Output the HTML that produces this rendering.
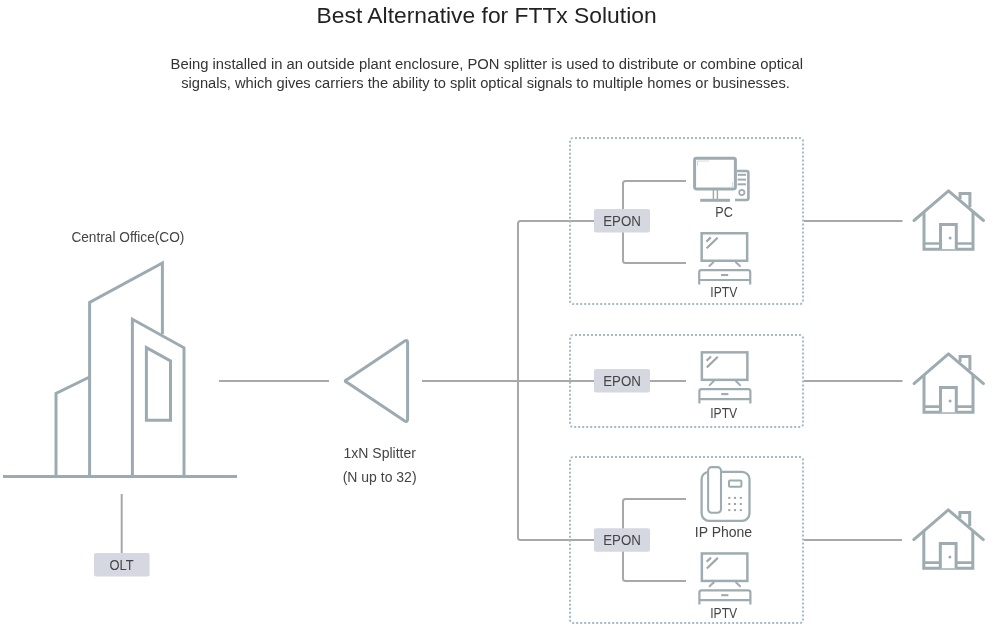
<!DOCTYPE html>
<html>
<head>
<meta charset="utf-8">
<style>
html,body{margin:0;padding:0;background:#fff;}
body{width:1008px;height:627px;overflow:hidden;position:relative;}
svg{position:absolute;left:0;top:0;display:block;will-change:transform;}
text{font-family:"Liberation Sans",sans-serif;}
</style>
</head>
<body>
<svg width="1008" height="627" viewBox="0 0 1008 627">

<!-- Title -->
<text x="486.6" y="22.6" text-anchor="middle" font-size="22.5" fill="#222" textLength="340" lengthAdjust="spacingAndGlyphs">Best Alternative for FTTx Solution</text>
<text x="486.8" y="68.8" text-anchor="middle" font-size="14" fill="#333" textLength="632.5" lengthAdjust="spacingAndGlyphs">Being installed in an outside plant enclosure, PON splitter is used to distribute or combine optical</text>
<text x="485.5" y="88.3" text-anchor="middle" font-size="14" fill="#333" textLength="608.7" lengthAdjust="spacingAndGlyphs">signals, which gives carriers the ability to split optical signals to multiple homes or businesses.</text>

<!-- Building -->
<g fill="none" stroke="#9cabb1" stroke-width="3" stroke-linejoin="miter">
  <line x1="3" y1="476.5" x2="237" y2="476.5"/>
  <polyline points="56,476 56,393.5 89.6,377"/>
  <polyline points="89.6,476 89.6,302.5 162.4,263 162.4,334"/>
  <polyline points="132.4,476 132.4,319.2 184,347.8 184,476"/>
  <polygon points="146.4,347.6 170.5,361 170.5,420.3 146.4,420.3"/>
</g>
<text x="127.9" y="241.9" text-anchor="middle" font-size="14" fill="#444" textLength="113" lengthAdjust="spacingAndGlyphs">Central Office(CO)</text>

<!-- OLT -->
<line x1="121.7" y1="494" x2="121.7" y2="554" stroke="#a8a8a8" stroke-width="2"/>
<rect x="94" y="553" width="55.6" height="23.5" rx="2" fill="#d5d8e1"/>
<text x="121.5" y="569.6" text-anchor="middle" font-size="14" fill="#444" textLength="24.2" lengthAdjust="spacingAndGlyphs">OLT</text>

<!-- Splitter -->
<line x1="219" y1="381" x2="329" y2="381" stroke="#a8a8a8" stroke-width="2"/>
<path d="M347.2,382.6 Q343.2,381 347.2,379.4 L404.4,341.2 Q407.6,339.1 407.6,342.9 L407.6,419.1 Q407.6,422.9 404.4,420.8 Z" fill="none" stroke="#9cabb1" stroke-width="3" stroke-linejoin="round"/>
<text x="379.7" y="458" text-anchor="middle" font-size="14" fill="#444">1xN Splitter</text>
<text x="379.6" y="481.5" text-anchor="middle" font-size="14" fill="#444">(N up to 32)</text>
<line x1="422" y1="381" x2="594" y2="381" stroke="#a8a8a8" stroke-width="2"/>

<!-- Trunk -->
<path d="M594,221 H520.5 Q518,221 518,223.5 V537.5 Q518,540 520.5,540 H594" fill="none" stroke="#a8a8a8" stroke-width="2"/>

<!-- Dotted boxes -->
<g fill="none" stroke="#a0bccb" stroke-width="2" stroke-dasharray="2 2" stroke-dashoffset="2">
  <rect x="570" y="138" width="233" height="166" rx="3"/>
  <rect x="570" y="335" width="233" height="92" rx="3"/>
  <rect x="570" y="457" width="233" height="166" rx="3"/>
</g>

<!-- Branches -->
<g fill="none" stroke="#a8a8a8" stroke-width="2">
  <path d="M686,181 H625.5 Q623,181 623,183.5 V260.5 Q623,263 625.5,263 H686"/>
  <line x1="650" y1="381" x2="686" y2="381"/>
  <path d="M686,499 H625.5 Q623,499 623,501.5 V578.5 Q623,581 625.5,581 H686"/>
  <line x1="804" y1="221" x2="902.5" y2="221"/>
  <line x1="804" y1="381" x2="902.5" y2="381"/>
  <line x1="804" y1="540" x2="902" y2="540"/>
</g>

<!-- EPON boxes -->
<g fill="#d5d8e1">
  <rect x="594" y="209" width="56" height="23.5" rx="2"/>
  <rect x="594" y="369" width="56" height="23.5" rx="2"/>
  <rect x="594" y="528.2" width="56" height="23.6" rx="2"/>
</g>
<g font-size="14" fill="#444" text-anchor="middle">
  <text x="622" y="226.1" textLength="37.7" lengthAdjust="spacingAndGlyphs">EPON</text>
  <text x="622" y="386.1" textLength="37.7" lengthAdjust="spacingAndGlyphs">EPON</text>
  <text x="622" y="545.3" textLength="37.7" lengthAdjust="spacingAndGlyphs">EPON</text>
</g>

<!-- PC -->
<g fill="none" stroke="#9eacb1">
  <rect x="694.6" y="158.3" width="40.8" height="30.6" rx="1.8" stroke-width="3"/>
  <path d="M697.6,166 V161 H709" stroke="#d3dadd" stroke-width="1"/>
  <path d="M721,187.4 H732.4 V182" stroke="#d3dadd" stroke-width="1"/>
  <line x1="713.4" y1="190" x2="713.4" y2="199" stroke-width="1.5"/>
  <line x1="717.4" y1="190" x2="717.4" y2="199" stroke-width="1.5"/>
  <line x1="700.2" y1="200.3" x2="730" y2="200.3" stroke-width="3"/>
  <path d="M737,171 H746.4 Q748.4,171 748.4,173 V198 Q748.4,200 746.4,200 H735" stroke-width="2.6"/>
  <line x1="737.6" y1="174.8" x2="746" y2="174.8" stroke-width="2"/>
  <line x1="737.6" y1="179.6" x2="746" y2="179.6" stroke-width="2"/>
  <line x1="737.6" y1="184.3" x2="746" y2="184.3" stroke-width="2"/>
  <circle cx="741.8" cy="192.5" r="2.6" stroke-width="1.8"/>
</g>
<g font-size="14" fill="#444" text-anchor="middle">
  <text x="724" y="216.6" textLength="17.5" lengthAdjust="spacingAndGlyphs">PC</text>
  <text x="723.8" y="297.4" textLength="27" lengthAdjust="spacingAndGlyphs">IPTV</text>
  <text x="723.7" y="417.9" textLength="27" lengthAdjust="spacingAndGlyphs">IPTV</text>
  <text x="723.5" y="536.5">IP Phone</text>
  <text x="723.7" y="617.6" textLength="27" lengthAdjust="spacingAndGlyphs">IPTV</text>
</g>

<!-- TVs -->
<g transform="translate(700.4,232)">
    <!-- origin: screen top-left outer at (0,0) -->
    <rect x="1.25" y="1.25" width="45.5" height="27.5" fill="none" stroke="#9eacb1" stroke-width="2.5"/>
    <line x1="6" y1="9.6" x2="10.4" y2="5.4" stroke="#9fa7ab" stroke-width="2.2"/>
    <line x1="6.2" y1="16.3" x2="17.2" y2="5.7" stroke="#9fa7ab" stroke-width="2.2"/>
    <line x1="9" y1="34" x2="13" y2="30.2" stroke="#9eacb1" stroke-width="2" stroke-linecap="round"/>
    <line x1="39.5" y1="34" x2="35.5" y2="30.2" stroke="#9eacb1" stroke-width="2" stroke-linecap="round"/>
    <path d="M-1.2,52.4 V40.3 Q-1.2,38.1 1,38.1 H47.6 Q49.8,38.1 49.8,40.3 V52.4" fill="none" stroke="#9eacb1" stroke-width="2.2"/>
    <line x1="-1.2" y1="48" x2="49.8" y2="48" stroke="#9eacb1" stroke-width="2.2"/>
    <line x1="20.6" y1="43" x2="27.8" y2="43" stroke="#9eacb1" stroke-width="2.1"/>
  </g>
<g transform="translate(700.6,351.1)">
    <!-- origin: screen top-left outer at (0,0) -->
    <rect x="1.25" y="1.25" width="45.5" height="27.5" fill="none" stroke="#9eacb1" stroke-width="2.5"/>
    <line x1="6" y1="9.6" x2="10.4" y2="5.4" stroke="#9fa7ab" stroke-width="2.2"/>
    <line x1="6.2" y1="16.3" x2="17.2" y2="5.7" stroke="#9fa7ab" stroke-width="2.2"/>
    <line x1="9" y1="34" x2="13" y2="30.2" stroke="#9eacb1" stroke-width="2" stroke-linecap="round"/>
    <line x1="39.5" y1="34" x2="35.5" y2="30.2" stroke="#9eacb1" stroke-width="2" stroke-linecap="round"/>
    <path d="M-1.2,52.4 V40.3 Q-1.2,38.1 1,38.1 H47.6 Q49.8,38.1 49.8,40.3 V52.4" fill="none" stroke="#9eacb1" stroke-width="2.2"/>
    <line x1="-1.2" y1="48" x2="49.8" y2="48" stroke="#9eacb1" stroke-width="2.2"/>
    <line x1="20.6" y1="43" x2="27.8" y2="43" stroke="#9eacb1" stroke-width="2.1"/>
  </g>
<g transform="translate(700.6,552.2)">
    <!-- origin: screen top-left outer at (0,0) -->
    <rect x="1.25" y="1.25" width="45.5" height="27.5" fill="none" stroke="#9eacb1" stroke-width="2.5"/>
    <line x1="6" y1="9.6" x2="10.4" y2="5.4" stroke="#9fa7ab" stroke-width="2.2"/>
    <line x1="6.2" y1="16.3" x2="17.2" y2="5.7" stroke="#9fa7ab" stroke-width="2.2"/>
    <line x1="9" y1="34" x2="13" y2="30.2" stroke="#9eacb1" stroke-width="2" stroke-linecap="round"/>
    <line x1="39.5" y1="34" x2="35.5" y2="30.2" stroke="#9eacb1" stroke-width="2" stroke-linecap="round"/>
    <path d="M-1.2,52.4 V40.3 Q-1.2,38.1 1,38.1 H47.6 Q49.8,38.1 49.8,40.3 V52.4" fill="none" stroke="#9eacb1" stroke-width="2.2"/>
    <line x1="-1.2" y1="48" x2="49.8" y2="48" stroke="#9eacb1" stroke-width="2.2"/>
    <line x1="20.6" y1="43" x2="27.8" y2="43" stroke="#9eacb1" stroke-width="2.1"/>
  </g>

<!-- Phone -->
<g fill="none" stroke="#9eacb1">
  <rect x="701.6" y="471.8" width="47.9" height="49.0" rx="7.5" stroke-width="2.3"/>
  <rect x="708.1" y="467.1" width="12.9" height="45.6" rx="3.5" fill="#fff" stroke-width="2.1"/>
  <rect x="729" y="480.4" width="12.4" height="6.4" rx="1" stroke-width="2"/>
</g>
<g fill="#9ca3a7">
  <rect x="728.3" y="496.9" width="2" height="2"/><rect x="734" y="496.9" width="2" height="2"/><rect x="739.8" y="496.9" width="2" height="2"/>
  <rect x="728.3" y="503" width="2" height="2"/><rect x="734" y="503" width="2" height="2"/><rect x="739.8" y="503" width="2" height="2"/>
  <rect x="728.3" y="509.1" width="2" height="2"/><rect x="734" y="509.1" width="2" height="2"/><rect x="739.8" y="509.1" width="2" height="2"/>
</g>

<!-- Houses -->
<g transform="translate(948.5,189)">
    <!-- origin: peak outer top (0,0) -->
    <polyline points="-34.5,31.5 0,1.8 35,31.5" fill="none" stroke="#9eacb1" stroke-width="3" stroke-linecap="round" stroke-linejoin="round"/>
    <polyline points="11.6,10 11.6,4.5 21.4,4.5 21.4,18" fill="none" stroke="#9eacb1" stroke-width="3"/>
    <polyline points="-24.5,23 -24.5,60.2 24.5,60.2 24.5,23" fill="none" stroke="#9eacb1" stroke-width="3"/>
    <line x1="-24.5" y1="54.5" x2="24.5" y2="54.5" stroke="#9eacb1" stroke-width="2.6"/>
    <polyline points="-8,60.2 -8,35.5 7.8,35.5 7.8,60.2" fill="#fff" stroke="#9eacb1" stroke-width="3"/>
    <circle cx="1.6" cy="49" r="1.5" fill="#9eacb1"/>
  </g>
<g transform="translate(948.5,352.1)">
    <!-- origin: peak outer top (0,0) -->
    <polyline points="-34.5,31.5 0,1.8 35,31.5" fill="none" stroke="#9eacb1" stroke-width="3" stroke-linecap="round" stroke-linejoin="round"/>
    <polyline points="11.6,10 11.6,4.5 21.4,4.5 21.4,18" fill="none" stroke="#9eacb1" stroke-width="3"/>
    <polyline points="-24.5,23 -24.5,60.2 24.5,60.2 24.5,23" fill="none" stroke="#9eacb1" stroke-width="3"/>
    <line x1="-24.5" y1="54.5" x2="24.5" y2="54.5" stroke="#9eacb1" stroke-width="2.6"/>
    <polyline points="-8,60.2 -8,35.5 7.8,35.5 7.8,60.2" fill="#fff" stroke="#9eacb1" stroke-width="3"/>
    <circle cx="1.6" cy="49" r="1.5" fill="#9eacb1"/>
  </g>
<g transform="translate(948.3,508.1)">
    <!-- origin: peak outer top (0,0) -->
    <polyline points="-34.5,31.5 0,1.8 35,31.5" fill="none" stroke="#9eacb1" stroke-width="3" stroke-linecap="round" stroke-linejoin="round"/>
    <polyline points="11.6,10 11.6,4.5 21.4,4.5 21.4,18" fill="none" stroke="#9eacb1" stroke-width="3"/>
    <polyline points="-24.5,23 -24.5,60.2 24.5,60.2 24.5,23" fill="none" stroke="#9eacb1" stroke-width="3"/>
    <line x1="-24.5" y1="54.5" x2="24.5" y2="54.5" stroke="#9eacb1" stroke-width="2.6"/>
    <polyline points="-8,60.2 -8,35.5 7.8,35.5 7.8,60.2" fill="#fff" stroke="#9eacb1" stroke-width="3"/>
    <circle cx="1.6" cy="49" r="1.5" fill="#9eacb1"/>
  </g>

</svg>
</body>
</html>
